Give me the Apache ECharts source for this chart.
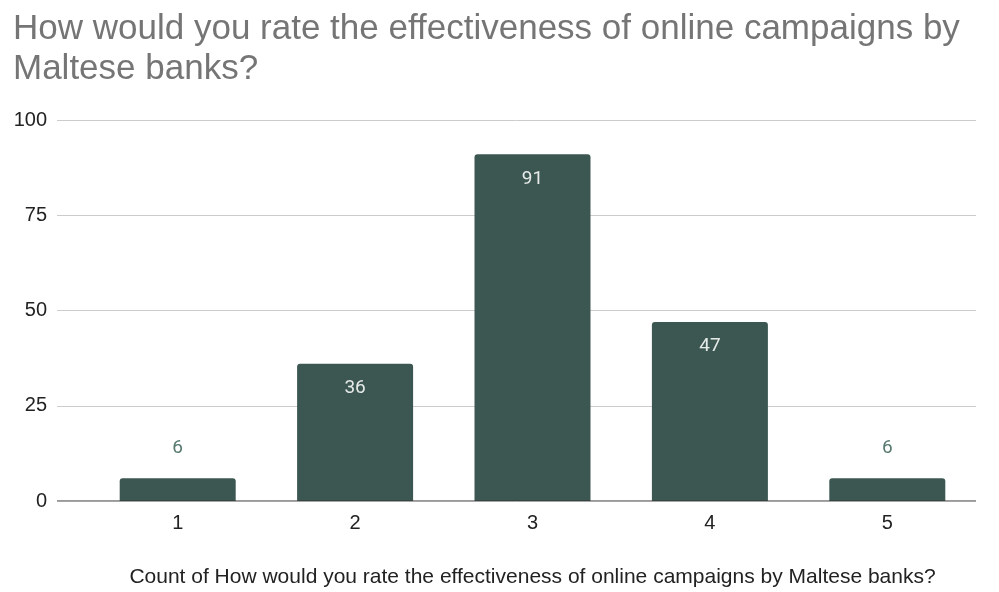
<!DOCTYPE html>
<html>
<head>
<meta charset="utf-8">
<script src="https://cdn.jsdelivr.net/npm/echarts@6/dist/echarts.min.js"></script>
<style>
  html, body { margin: 0; padding: 0; background: #fff; }
  #chart { width: 999px; height: 592px; }
</style>
</head>
<body>
<div id="chart"></div>
<script>
const titleText = 'How would you rate the effectiveness of online campaigns by\nMaltese banks?';
const axisTitle = 'Count of How would you rate the effectiveness of online campaigns by Maltese banks?';
const categories = ['1', '2', '3', '4', '5'];
const counts = [6, 36, 91, 47, 6];
const yTicks = [0, 25, 50, 75, 100];

const barColor = '#3c5751';
const sansFont = '"Liberation Sans", Arial, sans-serif';

const chart = echarts.init(document.getElementById('chart'), null, { renderer: 'canvas' });

// Short bars get their value above; taller ones inside near the top.
const barData = counts.map(v => ({
  value: v,
  label: v < 15
    ? { position: 'top', distance: 20, color: '#567a70' }
    : { position: 'insideTop', distance: 15, color: '#e6eae8' }
}));

chart.setOption({
  animation: false,
  backgroundColor: '#ffffff',
  title: {
    text: titleText,
    left: 8,
    top: 4,
    textStyle: {
      fontFamily: sansFont,
      fontSize: 35,
      fontWeight: 'normal',
      color: '#757575',
      lineHeight: 40
    }
  },
  grid: [
    // full-width grid for the value gridlines and baseline
    { left: 57, right: 23, top: 120, bottom: 91, outerBoundsMode: 'none', containLabel: false },
    // grid holding the category bands
    { left: 89, right: 23, top: 120, bottom: 91, outerBoundsMode: 'none', containLabel: false }
  ],
  xAxis: [
    {
      gridIndex: 0,
      type: 'value',
      min: 0,
      max: 1,
      axisLine: { show: false },
      axisTick: { show: false },
      axisLabel: { show: false },
      splitLine: { show: false }
    },
    {
      gridIndex: 1,
      type: 'category',
      data: categories,
      axisLine: { show: false },
      axisTick: { show: false },
      axisLabel: {
        margin: 12,
        fontFamily: sansFont,
        fontSize: 20,
        color: '#222222'
      },
      name: axisTitle,
      nameLocation: 'middle',
      nameGap: 66,
      nameTextStyle: {
        fontFamily: sansFont,
        fontSize: 21,
        color: '#222222'
      }
    }
  ],
  yAxis: [
    {
      gridIndex: 0,
      type: 'value',
      min: yTicks[0],
      max: yTicks[yTicks.length - 1],
      interval: yTicks[1] - yTicks[0],
      axisLine: { show: false },
      axisTick: { show: false },
      axisLabel: {
        margin: 10,
        fontFamily: sansFont,
        fontSize: 20,
        color: '#222222'
      },
      splitLine: { lineStyle: { color: '#cccccc', width: 1 } }
    },
    {
      gridIndex: 1,
      type: 'value',
      min: yTicks[0],
      max: yTicks[yTicks.length - 1],
      interval: yTicks[1] - yTicks[0],
      show: false,
      splitLine: { show: false }
    }
  ],
  series: [
    {
      // baseline across the whole plot at zero
      type: 'line',
      xAxisIndex: 0,
      yAxisIndex: 0,
      data: [[0, 0], [1, 0]],
      symbol: 'none',
      silent: true,
      lineStyle: { color: '#333333', width: 1 },
      z: 5
    },
    {
      type: 'bar',
      xAxisIndex: 1,
      yAxisIndex: 1,
      data: barData,
      barWidth: 116,
      itemStyle: { color: barColor, borderRadius: [3, 3, 0, 0] },
      label: {
        show: true,
        fontFamily: 'Roboto, sans-serif',
        fontSize: 19
      },
      z: 3
    }
  ]
});
</script>
</body>
</html>
